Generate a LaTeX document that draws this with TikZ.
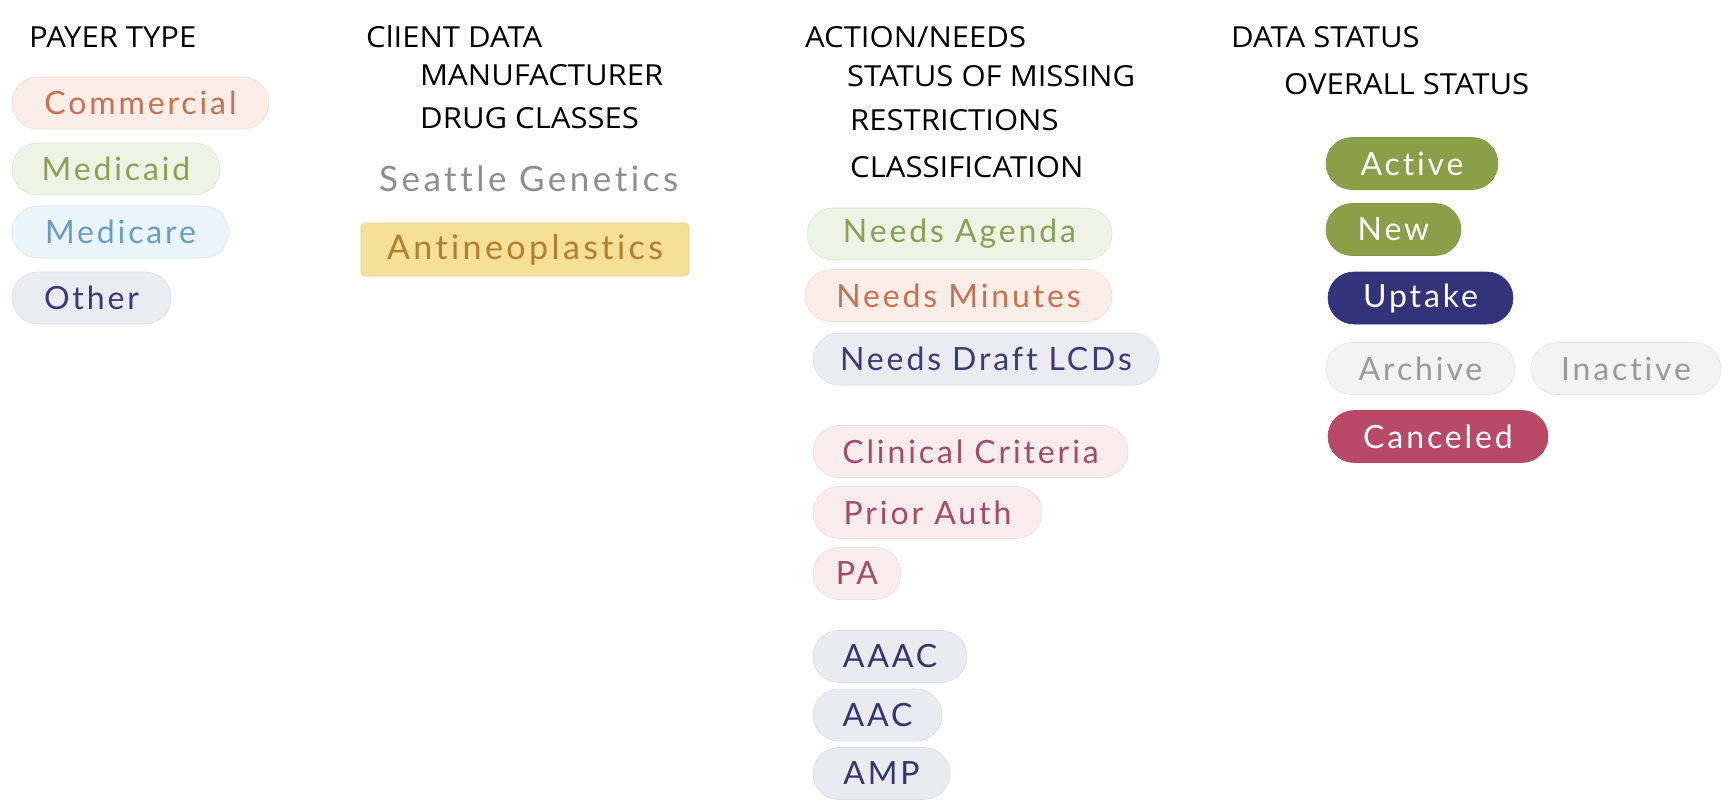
\documentclass[tikz,border=0pt]{standalone}
\usepackage{fontspec}
\newfontfamily\pillfont[LetterSpace=9,Ligatures=NoCommon]{Lato}
\newfontfamily\bigpillfont[LetterSpace=10,Ligatures=NoCommon]{Lato}
\newfontfamily\headfont[FakeStretch=1.07]{Open Sans}
\definecolor{comF}{HTML}{FBEDE8}\definecolor{comT}{HTML}{C9714F}
\definecolor{mcdF}{HTML}{EEF3E6}\definecolor{mcdT}{HTML}{88A253}
\definecolor{mcrF}{HTML}{EAF5FB}\definecolor{mcrT}{HTML}{6A9CC4}
\definecolor{othF}{HTML}{EBEBF2}\definecolor{othT}{HTML}{3B3A78}
\definecolor{antF}{HTML}{F6DF96}\definecolor{antT}{HTML}{B37F2C}
\definecolor{seaT}{HTML}{8E8E8E}
\definecolor{redF}{HTML}{F9ECEE}\definecolor{redT}{HTML}{A54A68}
\definecolor{bluF}{HTML}{EAEBF1}\definecolor{bluT}{HTML}{34346F}
\definecolor{grnS}{HTML}{89A049}
\definecolor{navS}{HTML}{33337A}
\definecolor{gryF}{HTML}{F3F3F3}\definecolor{gryT}{HTML}{9A9A9A}
\definecolor{canS}{HTML}{B84A68}
\tikzset{
  pill/.style n args={3}{fill=#1, text=#2, draw=#1!94!black, line width=0.6pt,
    minimum width=#3, minimum height=52pt, rounded corners=26pt, inner sep=0pt,
    font=\pillfont\fontsize{32}{32}\selectfont},
  head/.style={anchor=base west, inner sep=0pt, font=\headfont\fontsize{29}{29}\selectfont, text=black}
}
\begin{document}
\begin{tikzpicture}[x=1pt,y=-1pt]
\useasboundingbox (0,0) rectangle (1735,811);
\fill[white] (0,0) rectangle (1735,811);
% headings
\node[head] (h1) at (29,47) {PAYER TYPE};
\node[head] (h2) at (366,47) {ClIENT DATA};
\node[head] (h2a) at (420,85) {MANUFACTURER};
\node[head] (h2b) at (420,128) {DRUG CLASSES};
\node[head] (h3) at (805,47) {ACTION/NEEDS};
\node[head] (h3a) at (847,86) {STATUS OF MISSING};
\node[head] (h3b) at (850,130) {RESTRICTIONS};
\node[head] (h3c) at (850,177) {CLASSIFICATION};
\node[head] (h4) at (1231,47) {DATA STATUS};
\node[head] (h4a) at (1284,94) {OVERALL STATUS};
% payer type
\node[pill={comF}{comT}{257pt}] (com) at (140.5,103) {Commercial};
\node[pill={mcdF}{mcdT}{208pt}] (mcd) at (116,169) {Medicaid};
\node[pill={mcrF}{mcrT}{217pt}] (mcr) at (120.5,232) {Medicare};
\node[pill={othF}{othT}{159pt}] (oth) at (91.5,298) {Other};
% client data
\node[anchor=base west, inner sep=0pt, text=seaT, font=\bigpillfont\fontsize{35}{35}\selectfont] (sea) at (379,191) {Seattle Genetics};
\node[pill={antF}{antT}{328pt}, rounded corners=4pt, minimum height=53pt, font=\bigpillfont\fontsize{34}{34}\selectfont] (ant) at (525,249.5) {Antineoplastics};
% action/needs
\node[pill={mcdF}{mcdT}{305pt}] (na) at (959.5,234) {Needs Agenda};
\node[pill={comF}{comT}{307pt}] (nm) at (958.5,295.5) {Needs Minutes};
\node[pill={othF}{othT}{346pt}] (nd) at (986,359) {Needs Draft LCDs};
\node[pill={redF}{redT}{315pt}] (cc) at (970.5,451.5) {Clinical Criteria};
\node[pill={redF}{redT}{229pt}] (pa1) at (927.5,512.5) {Prior Auth};
\node[pill={redF}{redT}{88pt}] (pa2) at (857,573.5) {PA};
\node[pill={bluF}{bluT}{154pt}] (aaac) at (890,656.5) {AAAC};
\node[pill={bluF}{bluT}{129pt}] (aac) at (877.5,715) {AAC};
\node[pill={bluF}{bluT}{137pt}] (amp) at (881.5,773.5) {AMP};
% data status
\node[pill={grnS}{white}{172pt}] (act) at (1412,163.5) {Active};
\node[pill={grnS}{white}{135pt}] (new) at (1393.5,229.5) {New};
\node[pill={navS}{white}{185pt}] (upt) at (1420.5,298) {Uptake};
\node[pill={gryF}{gryT}{189pt}] (arc) at (1420.5,368.5) {Archive};
\node[pill={gryF}{gryT}{190pt}] (ina) at (1626,368.5) {Inactive};
\node[pill={canS}{white}{220pt}] (can) at (1438,436.5) {Canceled};
\end{tikzpicture}
\end{document}
